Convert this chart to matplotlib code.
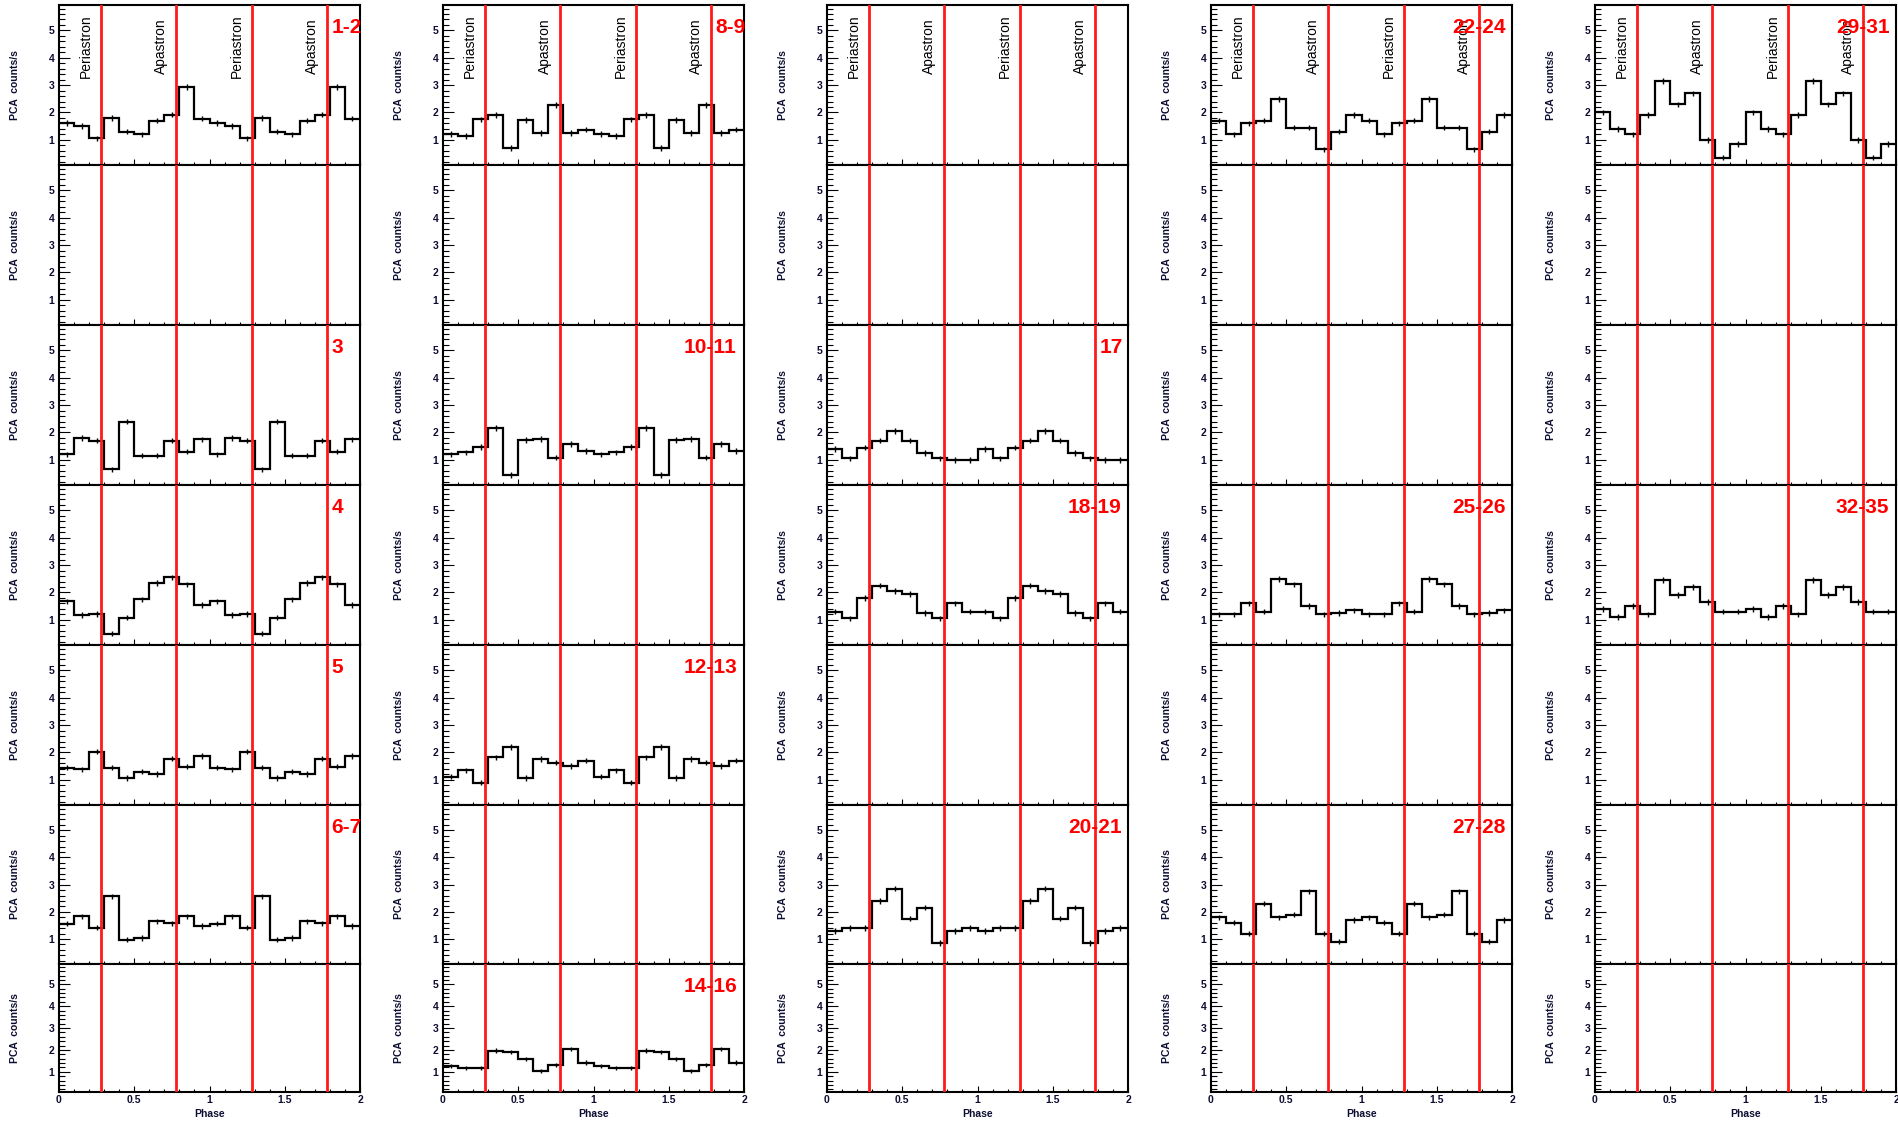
import numpy as np
import matplotlib.pyplot as plt
import matplotlib.transforms as mtransforms
from matplotlib.ticker import MultipleLocator, FixedLocator, FixedFormatter

plt.rcParams['font.family'] = ['Liberation Sans', 'DejaVu Sans']

# folded light curves, 10 phase bins per orbit (drawn twice: phase 0-2)
lc_1_2 = [1.62, 1.50, 1.05, 1.80, 1.30, 1.20, 1.70, 1.92, 2.93, 1.78]
lc_3 = [1.20, 1.80, 1.70, 0.65, 2.40, 1.15, 1.15, 1.70, 1.30, 1.75]
lc_4 = [1.68, 1.17, 1.22, 0.50, 1.08, 1.75, 2.35, 2.55, 2.30, 1.55]
lc_5 = [1.45, 1.38, 2.03, 1.45, 1.07, 1.30, 1.22, 1.78, 1.48, 1.88]
lc_6_7 = [1.57, 1.83, 1.42, 2.57, 0.98, 1.04, 1.65, 1.58, 1.83, 1.48]
lc_8_9 = [1.22, 1.14, 1.75, 1.90, 0.70, 1.72, 1.25, 2.27, 1.25, 1.37]
lc_10_11 = [1.20, 1.27, 1.47, 2.17, 0.45, 1.73, 1.76, 1.08, 1.58, 1.33]
lc_12_13 = [1.12, 1.35, 0.90, 1.82, 2.20, 1.07, 1.77, 1.63, 1.50, 1.70]
lc_14_16 = [1.26, 1.17, 1.17, 1.97, 1.90, 1.58, 1.05, 1.32, 2.05, 1.42]
lc_17 = [1.40, 1.05, 1.45, 1.70, 2.05, 1.70, 1.25, 1.05, 1.00, 1.00]
lc_18_19 = [1.30, 1.05, 1.80, 2.25, 2.05, 1.95, 1.25, 1.05, 1.60, 1.30]
lc_20_21 = [1.30, 1.40, 1.40, 2.40, 2.85, 1.75, 2.15, 0.85, 1.30, 1.40]
lc_22_24 = [1.70, 1.20, 1.60, 1.70, 2.50, 1.45, 1.45, 0.65, 1.30, 1.90]
lc_25_26 = [1.20, 1.20, 1.60, 1.30, 2.50, 2.30, 1.50, 1.20, 1.25, 1.35]
lc_27_28 = [1.80, 1.60, 1.20, 2.30, 1.80, 1.90, 2.75, 1.20, 0.90, 1.70]
lc_29_31 = [2.00, 1.40, 1.20, 1.90, 3.15, 2.30, 2.70, 1.00, 0.35, 0.85]
lc_32_35 = [1.40, 1.10, 1.50, 1.20, 2.45, 1.90, 2.20, 1.65, 1.30, 1.30]
err = 0.1

periastron = [0.28, 1.28]
apastron = [0.78, 1.78]
phase_ticks = [0, 0.5, 1, 1.5, 2]
phase_labels = ['0', '0.5', '1', '1.5', '2']

# (column, row) -> (label, light curve)
panels = {
    (0, 0): ("1-2", lc_1_2), (0, 2): ("3", lc_3), (0, 3): ("4", lc_4),
    (0, 4): ("5", lc_5), (0, 5): ("6-7", lc_6_7),
    (1, 0): ("8-9", lc_8_9), (1, 2): ("10-11", lc_10_11),
    (1, 4): ("12-13", lc_12_13), (1, 6): ("14-16", lc_14_16),
    (2, 2): ("17", lc_17), (2, 3): ("18-19", lc_18_19), (2, 5): ("20-21", lc_20_21),
    (3, 0): ("22-24", lc_22_24), (3, 3): ("25-26", lc_25_26), (3, 5): ("27-28", lc_27_28),
    (4, 0): ("29-31", lc_29_31), (4, 3): ("32-35", lc_32_35),
}

W, H = 1898, 1122
fig = plt.figure(figsize=(W / 100, H / 100), dpi=100)

col_left = [59, 443, 827, 1211, 1595]
ax_w = 301
row_top = [5, 165, 325, 485, 645, 805, 964]
row_h = [160, 160, 160, 160, 160, 159, 128]
txt_col = '#0d0d33'

edges = np.linspace(0, 2, 21)
centers = 0.5 * (edges[:-1] + edges[1:])

for c in range(5):
    for r in range(7):
        top, h = row_top[r], row_h[r]
        ax = fig.add_axes([col_left[c] / W, 1 - (top + h) / H, ax_w / W, h / H])
        ax.set_xlim(0, 2)
        ax.set_ylim(0.08, 5.93)
        for s in ax.spines.values():
            s.set_linewidth(1.5)

        ax.yaxis.set_major_locator(FixedLocator([1, 2, 3, 4, 5]))
        ax.yaxis.set_minor_locator(MultipleLocator(0.2))
        ax.xaxis.set_major_locator(FixedLocator(phase_ticks))
        ax.xaxis.set_minor_locator(MultipleLocator(0.1))
        ax.tick_params(which='both', direction='in', top=False, right=False,
                       width=0.8, colors='k', labelcolor=txt_col)
        ax.tick_params(axis='y', which='major', length=8, pad=3.5, labelsize=7.5)
        ax.tick_params(axis='y', which='minor', length=4)
        ax.tick_params(axis='x', which='major', length=4, pad=2.5, labelsize=7.5)
        ax.tick_params(axis='x', which='minor', length=2)
        for lab in ax.get_yticklabels():
            lab.set_fontweight('bold')

        if r == 6:
            ax.xaxis.set_major_formatter(FixedFormatter(phase_labels))
            for lab in ax.get_xticklabels():
                lab.set_fontweight('bold')
            ax.set_xlabel('Phase', fontsize=7.5, fontweight='bold', color=txt_col)
            ax.xaxis.set_label_coords(0.5, -0.13)
        else:
            ax.tick_params(axis='x', labelbottom=False)

        ax.set_ylabel('PCA  counts/s', fontsize=7.5, fontweight='bold', color=txt_col)
        ax.yaxis.set_label_coords(-0.13, 0.5)

        if (c, r) in panels:
            label, lc = panels[(c, r)]
            vals = np.array(lc + lc)
            ax.stairs(vals, edges, baseline=None, color='k', linewidth=1.6)
            ax.errorbar(centers, vals, yerr=err, fmt='none', ecolor='k',
                        elinewidth=1.0, capsize=0)
            xf = 0.905 if len(label) <= 3 else 0.80
            ax.annotate(label, xy=(xf, 1), xycoords='axes fraction',
                        xytext=(0, -20), textcoords='offset points',
                        ha='left', va='baseline', fontsize=15,
                        fontweight='bold', color='#ff0000', zorder=5)

        for xv in periastron + apastron:
            ax.axvline(xv, color='#ff1a1a', linewidth=2.0, zorder=4)

        if r == 0:
            trans = mtransforms.blended_transform_factory(ax.transData, ax.transAxes)
            for xv in sorted(periastron + apastron):
                name = 'Periastron' if xv in periastron else 'Apastron'
                ax.text(xv - 0.1, 0.74, name, transform=trans, rotation=90,
                        ha='center', va='center', fontsize=10, color='k')

fig.savefig('out.png', dpi=100)
